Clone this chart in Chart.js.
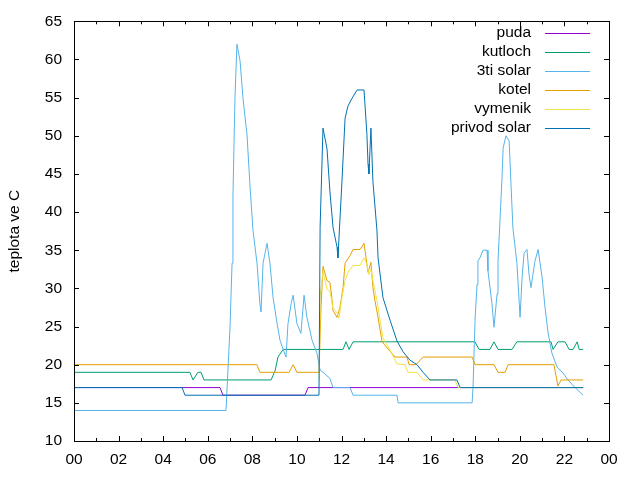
<!DOCTYPE html>
<html>
<head>
<meta charset="utf-8">
<script src="https://cdn.jsdelivr.net/npm/chart.js@4.4.0/dist/chart.umd.min.js"></script>
<style>
  body { margin: 0; background: #fff; }
  canvas { display: block; }
</style>
</head>
<body>
<canvas id="chart" width="640" height="480"></canvas>
<script>
// hodiny (h) a teploty (C) pro kazde cidlo
var pudaHours = [0, 6.55, 6.68, 10.36, 10.5, 22.84];
var pudaTemps = [17, 17, 16, 16, 17, 17];

var kutlochHours = [0, 5.2, 5.34, 5.56, 5.7, 5.83, 8.84, 9.02, 9.15, 9.38, 12.07, 12.2, 12.34, 12.52, 17.99, 18.17, 18.66, 18.84, 19.02, 19.65, 19.87, 21.4, 21.49, 21.71, 22.03, 22.21, 22.39, 22.57, 22.66, 22.84];
var kutlochTemps = [19, 19, 18, 19, 19, 18, 18, 19.2, 21, 22, 22, 23, 22, 23, 23, 22, 22, 23, 22, 22, 23, 23, 22, 23, 23, 22, 22, 23, 22, 22];

var solar3Hours = [0, 6.82, 6.86, 7.0, 7.09, 7.13, 7.22, 7.31, 7.45, 7.58, 7.76, 7.9, 8.03, 8.21, 8.34, 8.39, 8.48, 8.66, 8.79, 8.93, 9.11, 9.24, 9.51, 9.6, 9.74, 9.83, 10.0, 10.18, 10.32, 10.45, 10.68, 10.9, 11.04, 11.17, 11.48, 11.62, 12.38, 12.52, 14.49, 14.54, 17.86, 17.9, 17.99, 18.08, 18.12, 18.21, 18.35, 18.53, 18.57, 18.75, 18.84, 18.98, 19.02, 19.11, 19.2, 19.25, 19.38, 19.52, 19.61, 19.69, 19.87, 20.01, 20.1, 20.19, 20.32, 20.41, 20.5, 20.68, 20.82, 21.0, 21.13, 21.27, 21.44, 21.67, 21.94, 22.16, 22.48, 22.84];
var solar3Temps = [14, 14, 14, 25, 33.3, 42, 54.9, 62, 59.8, 54.9, 50.2, 43.2, 37.6, 33.3, 28, 26.9, 33.3, 35.9, 33.3, 28.8, 25.4, 23.2, 21, 25.4, 28, 29.1, 25.4, 24.1, 29.1, 26.2, 23.2, 21.5, 19.3, 19, 18.2, 17, 17, 16, 16, 15, 15, 17, 25.8, 30.5, 33.6, 34, 35, 35, 32.3, 28, 24.9, 29.3, 33.6, 38.9, 44.5, 48.4, 50, 49.3, 43.2, 37.9, 33.3, 26.2, 31.4, 34.6, 35.1, 31.9, 30.1, 33.6, 35.1, 31.4, 27.5, 24.1, 21.5, 19.7, 18.9, 18, 17, 16];

var kotelHours = [0, 8.21, 8.34, 9.65, 9.83, 10.0, 10.99, 11.08, 11.17, 11.35, 11.48, 11.57, 11.62, 11.8, 11.93, 12.07, 12.16, 12.38, 12.52, 12.83, 13.01, 13.1, 13.19, 13.32, 13.41, 13.5, 13.64, 13.82, 14.4, 14.94, 15.03, 15.34, 15.66, 17.86, 17.99, 18.84, 19.02, 19.34, 19.47, 21.53, 21.71, 21.85, 22.84];
var kotelTemps = [20, 20, 19, 19, 20, 19, 19, 27.5, 32.9, 31, 30.8, 28.7, 27.1, 26.2, 27.5, 30.1, 33.3, 34.3, 35.1, 35.1, 35.9, 34, 32.1, 33.4, 30.1, 28.4, 26.2, 23, 21, 21, 20, 20, 21, 21, 20, 20, 19, 19, 20, 20, 17.2, 18, 18];

var vymenikHours = [11.0, 11.04, 11.17, 11.35, 11.48, 11.62, 11.8, 11.89, 12.02, 12.16, 12.29, 12.52, 12.83, 13.01, 13.14, 13.23, 13.32, 13.41, 13.59, 13.73, 13.86, 14.18, 14.49, 14.85, 14.98, 15.39, 15.66, 17.09, 17.23, 22.84];
var vymenikTemps = [18, 29, 32.2, 29.9, 29.6, 27.4, 26.8, 26.1, 28.8, 31, 32.1, 33, 33, 34, 33.2, 31.8, 32.5, 31, 28.4, 25.8, 23.5, 21.9, 20.1, 20, 19, 19, 18, 18, 17, 17];

var privodHours = [0, 4.85, 4.98, 10.99, 11.04, 11.17, 11.35, 11.48, 11.62, 11.8, 11.84, 12.02, 12.16, 12.29, 12.47, 12.7, 13.01, 13.14, 13.19, 13.23, 13.32, 13.41, 13.59, 13.64, 13.86, 14.18, 14.49, 14.76, 15.07, 15.39, 15.66, 15.97, 17.18, 17.32, 22.84];
var privodTemps = [17, 17, 16, 16, 38, 51, 48.3, 42.7, 38, 35.4, 34, 44, 52.3, 53.9, 54.9, 56, 56, 50.2, 46.3, 45, 51, 44, 37.6, 34, 28.8, 25.8, 23.1, 21.7, 20.6, 20, 19, 18, 18, 17, 17];

var seriesNames = ["puda", "kutloch", "3ti solar", "kotel", "vymenik", "privod solar"];
var seriesColors = ["#9400d3", "#009e73", "#56b4e9", "#e69f00", "#f0e442", "#0072b2"];
var hourLabels = ["00", "02", "04", "06", "08", "10", "12", "14", "16", "18", "20", "22", "00"];

function pts(hours, temps) {
  return hours.map(function (h, i) { return { x: h, y: temps[i] }; });
}

var allSeries = [
  pts(pudaHours, pudaTemps),
  pts(kutlochHours, kutlochTemps),
  pts(solar3Hours, solar3Temps),
  pts(kotelHours, kotelTemps),
  pts(vymenikHours, vymenikTemps),
  pts(privodHours, privodTemps)
];

var datasets = allSeries.map(function (d, i) {
  return {
    label: seriesNames[i],
    data: d,
    borderColor: seriesColors[i],
    borderWidth: 1,
    pointRadius: 0,
    tension: 0,
    fill: false,
    order: seriesNames.length - i
  };
});

var FONT = "'Liberation Sans', Arial, sans-serif";
var FSIZE = 15.5;

// ramecek, kratke znacky dovnitr a legenda jako v gnuplotu
var gnuplotFrame = {
  id: 'gnuplotFrame',
  afterDatasetsDraw: function (chart) {
    var ctx = chart.ctx, a = chart.chartArea;
    var xs = chart.scales.x, ys = chart.scales.y;
    ctx.save();
    ctx.strokeStyle = '#000';
    ctx.lineWidth = 1;
    ctx.beginPath();
    for (var h = 0; h <= 24; h++) {
      var px = Math.round(xs.getPixelForValue(h)) + 0.5;
      var len = (h % 2 === 0) ? 5 : 3;
      ctx.moveTo(px, a.bottom); ctx.lineTo(px, a.bottom - len);
      ctx.moveTo(px, a.top); ctx.lineTo(px, a.top + len);
    }
    for (var v = 10; v <= 65; v += 5) {
      var py = Math.round(ys.getPixelForValue(v)) + 0.5;
      ctx.moveTo(a.left, py); ctx.lineTo(a.left + 5, py);
      ctx.moveTo(a.right, py); ctx.lineTo(a.right - 5, py);
    }
    ctx.stroke();
    ctx.strokeRect(Math.round(a.left) + 0.5, Math.round(a.top) + 0.5,
      Math.round(a.right - a.left), Math.round(a.bottom - a.top));

    // legenda
    ctx.font = FSIZE + 'px ' + FONT;
    ctx.textAlign = 'right';
    ctx.textBaseline = 'middle';
    for (var i = 0; i < seriesNames.length; i++) {
      var y = 33 + i * 19;
      ctx.fillStyle = '#000';
      ctx.fillText(seriesNames[i], 531, y);
      ctx.strokeStyle = seriesColors[i];
      ctx.beginPath();
      ctx.moveTo(545, y + 0.5);
      ctx.lineTo(590, y + 0.5);
      ctx.stroke();
    }
    ctx.restore();
  }
};

new Chart('chart', {
  type: 'line',
  data: { datasets: datasets },
  options: {
    responsive: false,
    animation: false,
    layout: { padding: { top: 20, right: 31, left: 0, bottom: 0 } },
    plugins: {
      legend: { display: false },
      tooltip: { enabled: false }
    },
    scales: {
      x: {
        type: 'linear',
        min: 0,
        max: 24,
        grid: { display: false, drawTicks: false },
        border: { display: false },
        afterFit: function (s) { s.height = 39; },
        afterBuildTicks: function (s) {
          s.ticks = hourLabels.map(function (_, i) { return { value: i * 2 }; });
        },
        ticks: {
          autoSkip: false,
          maxRotation: 0,
          padding: 9,
          color: '#000',
          font: { size: FSIZE, family: FONT },
          callback: function (v) { return hourLabels[Math.round(v / 2)]; }
        }
      },
      y: {
        min: 10,
        max: 65,
        grid: { display: false, drawTicks: false },
        border: { display: false },
        afterFit: function (s) { s.width = 74; },
        title: {
          display: true,
          text: 'teplota ve C',
          color: '#000',
          font: { size: FSIZE, family: FONT },
          padding: { top: 5, bottom: 0 }
        },
        ticks: {
          stepSize: 5,
          padding: 12,
          color: '#000',
          font: { size: FSIZE, family: FONT }
        }
      }
    }
  },
  plugins: [gnuplotFrame]
});
</script>
</body>
</html>
